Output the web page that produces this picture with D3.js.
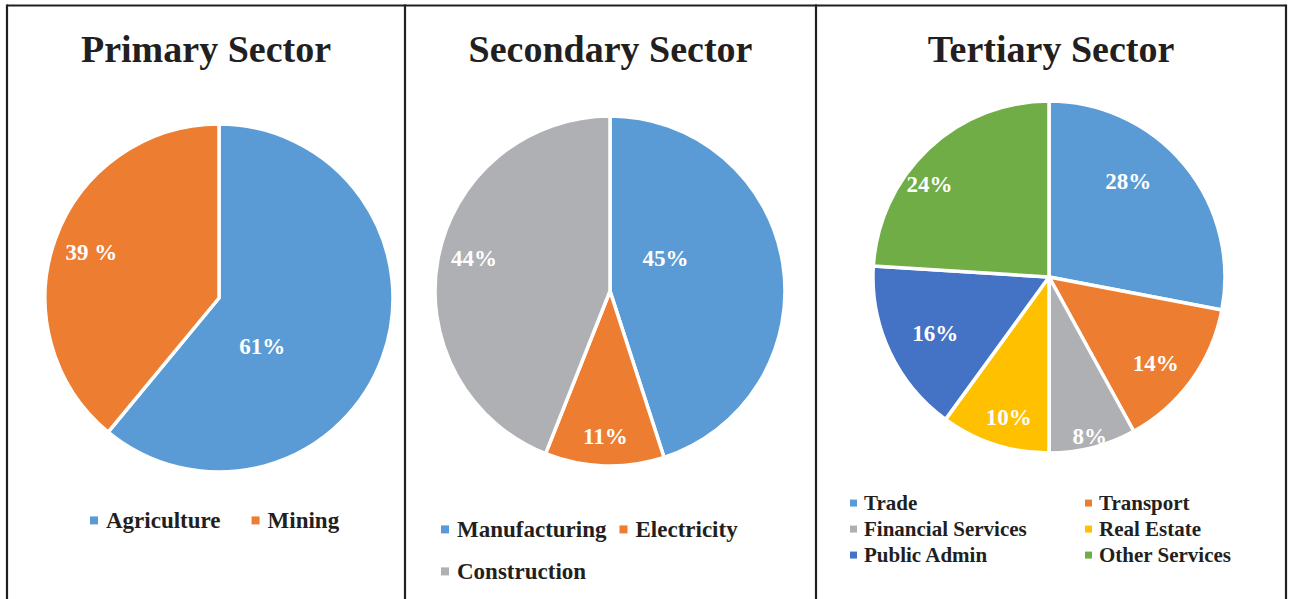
<!DOCTYPE html>
<html>
<head>
<meta charset="utf-8">
<script src="https://cdn.jsdelivr.net/npm/d3@7"></script>
<style>
body { margin: 0; background: #fff; }
svg { display: block; }
text { font-family: "Liberation Serif", "Times New Roman", serif; font-weight: bold; }
</style>
</head>
<body>
<svg id="chart" width="1289" height="599"></svg>
<script>
// data
var primaryCategories = ["Agriculture", "Mining"];
var primaryValues = [61, 39];
var primaryLabels = ["61%", "39 %"];

var secondaryCategories = ["Manufacturing", "Electricity", "Construction"];
var secondaryValues = [45, 11, 44];
var secondaryLabels = ["45%", "11%", "44%"];

var tertiaryCategories = ["Trade", "Transport", "Financial Services", "Real Estate", "Public Admin", "Other Services"];
var tertiaryValues = [28, 14, 8, 10, 16, 24];
var tertiaryLabels = ["28%", "14%", "8%", "10%", "16%", "24%"];

var sliceColors = ["#5B9BD5", "#ED7D31", "#AFB0B3", "#FFC000", "#4472C4", "#70AD47"];

// layout (label placement: [radius fraction, angle shift in degrees] per slice)
var panels = [
	{ title: "Primary Sector", cats: primaryCategories, vals: primaryValues, labels: primaryLabels,
	  left: 7, right: 405, cx: 219, cy: 298, r: 174,
	  place: [[0.37, 28], [0.78, 0]],
	  legend: { type: "flow", x: 90, y: 528, maxX: 400, font: 23, box: 8, gap: 31, step: 42 } },
	{ title: "Secondary Sector", cats: secondaryCategories, vals: secondaryValues, labels: secondaryLabels,
	  left: 405, right: 816, cx: 610, cy: 291, r: 175,
	  place: [[0.37, -22], [0.83, 0], [0.8, 3]],
	  legend: { type: "flow", x: 441, y: 537, maxX: 800, font: 23, box: 8, gap: 13, step: 42 } },
	{ title: "Tertiary Sector", cats: tertiaryCategories, vals: tertiaryValues, labels: tertiaryLabels,
	  left: 816, right: 1286, cx: 1049, cy: 277, r: 176,
	  place: [[0.71, -11], [0.78, 3], [0.93, 0], [0.83, -2], [0.72, -1], [0.86, -9]],
	  legend: { type: "grid", x: 850, y: 510, colW: 235, font: 21, box: 7, step: 26 } }
];

var svg = d3.select("#chart");

function drawFrame() {
	var stroke = "#231F20";
	svg.append("line")
		.attr("x1", 7).attr("x2", 1286)
		.attr("y1", 5.5).attr("y2", 5.5)
		.attr("stroke", stroke).attr("stroke-width", 2.2);
	[7, 405, 816, 1286].forEach(function(x) {
		svg.append("line")
			.attr("x1", x).attr("x2", x)
			.attr("y1", 4.5).attr("y2", 599)
			.attr("stroke", stroke).attr("stroke-width", 2.2);
	});
}

function drawPanel(p) {
	var g = svg.append("g");
	var color = d3.scaleOrdinal().domain(p.cats).range(sliceColors);

	g.append("text")
		.attr("x", (p.left + p.right) / 2)
		.attr("y", 62)
		.attr("text-anchor", "middle")
		.attr("font-size", 38)
		.attr("fill", "#231F20")
		.text(p.title);

	var pie = d3.pie().sort(null).value(function(d) { return d.value; });
	var data = p.cats.map(function(c, i) { return { cat: c, value: p.vals[i], label: p.labels[i] }; });
	var arcs = pie(data);
	var arc = d3.arc().innerRadius(0).outerRadius(p.r);

	var pieG = g.append("g").attr("transform", "translate(" + p.cx + "," + p.cy + ")");
	pieG.selectAll("path")
		.data(arcs)
		.enter().append("path")
		.attr("d", arc)
		.attr("fill", function(d) { return color(d.data.cat); })
		.attr("stroke", "#fff")
		.attr("stroke-width", 3.5)
		.attr("stroke-linejoin", "round");

	pieG.selectAll("text.lbl")
		.data(arcs)
		.enter().append("text")
		.attr("class", "lbl")
		.attr("transform", function(d, i) {
			var k = p.place[i][0];
			var a = (d.startAngle + d.endAngle) / 2 + p.place[i][1] * Math.PI / 180;
			var x = Math.sin(a) * p.r * k;
			var y = -Math.cos(a) * p.r * k;
			return "translate(" + x + "," + y + ")";
		})
		.attr("dy", "0.35em")
		.attr("text-anchor", "middle")
		.attr("font-size", 23)
		.attr("fill", "#fff")
		.text(function(d) { return d.data.label; });

	drawLegend(g, p, color);
}

function drawLegend(g, p, color) {
	var L = p.legend;
	var x = L.x, y = L.y;
	p.cats.forEach(function(c, i) {
		var item = g.append("g");
		var t = item.append("text")
			.attr("font-size", L.font)
			.attr("fill", "#231F20")
			.text(c);
		var textW = t.node().getComputedTextLength();
		var itemW = L.box * 2 + textW;
		if (L.type === "grid") {
			x = L.x + (i % 2) * L.colW;
			y = L.y + Math.floor(i / 2) * L.step;
		} else if (x + itemW > L.maxX && x > L.x) {
			x = L.x;
			y += L.step;
		}
		item.append("rect")
			.attr("x", x)
			.attr("y", y - L.font * 0.33 - L.box / 2)
			.attr("width", L.box)
			.attr("height", L.box)
			.attr("fill", color(c));
		t.attr("x", x + L.box * 2).attr("y", y);
		if (L.type !== "grid") x += itemW + L.gap;
	});
}

drawFrame();
panels.forEach(drawPanel);
</script>
</body>
</html>
